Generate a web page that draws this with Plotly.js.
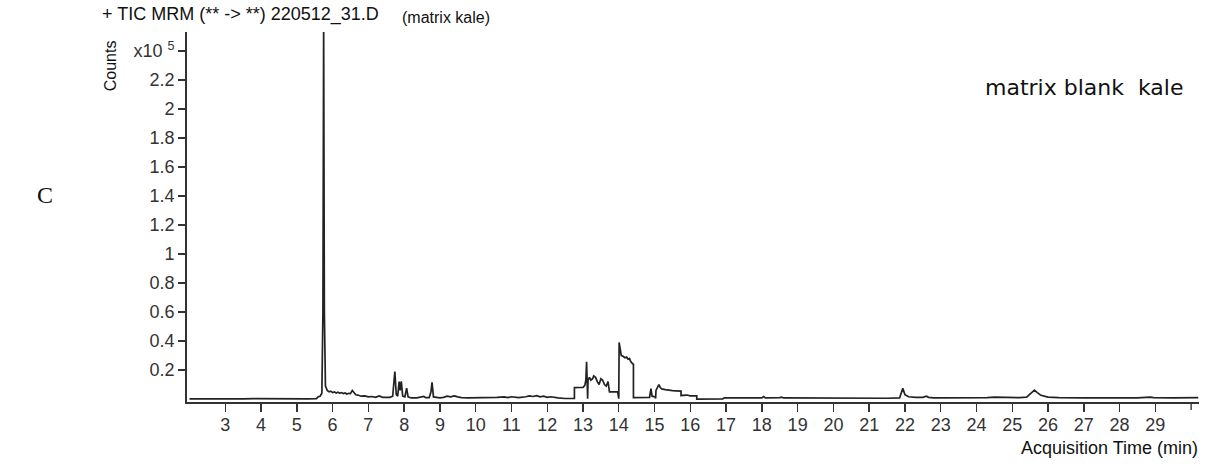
<!DOCTYPE html>
<html>
<head>
<meta charset="utf-8">
<script src="https://cdn.plot.ly/plotly-3.0.1.min.js"></script>
<style>html,body{margin:0;padding:0;background:#fff;}#chart{width:1206px;height:464px;}</style>
</head>
<body>
<div id="chart"></div>
<script>
// Acquisition time (min)
var times = [
2.0,2.3,2.6,2.9,3.2,3.5,3.8,4.1,4.4,4.7,5.0,5.3,5.55,5.6,5.65,5.7,5.73,5.75,5.77,5.8,5.85,5.9,5.95,6.0,6.05,6.1,6.15,6.2,6.25,6.3,6.35,6.4,6.45,6.5,6.55,6.6,6.65,6.7,6.8,6.9,7.0,7.1,7.2,7.3,7.4,7.5,7.6,7.68,7.74,7.78,7.82,7.86,7.89,7.92,7.96,8.02,8.07,8.11,8.2,8.35,8.5,8.55,8.6,8.7,8.75,8.78,8.82,8.9,9.0,9.1,9.2,9.3,9.4,9.5,9.6,9.8,10.0,10.2,10.4,10.6,10.8,10.9,11.0,11.2,11.4,11.5,11.6,11.7,11.8,11.9,12.0,12.1,12.3,12.5,12.76,12.76,12.9,13.0,13.05,13.08,13.1,13.12,13.13,13.14,13.18,13.22,13.27,13.3,13.35,13.4,13.45,13.5,13.55,13.6,13.65,13.7,13.73,13.74,13.97,13.98,14.0,14.01,14.04,14.07,14.12,14.17,14.22,14.26,14.3,14.33,14.38,14.41,14.41,14.6,14.8,14.86,14.9,14.93,15.02,15.03,15.04,15.08,15.12,15.16,15.2,15.3,15.4,15.5,15.6,15.74,15.74,15.9,16.0,16.18,16.18,16.5,16.9,16.95,17.5,18.0,18.05,18.1,18.5,18.55,18.6,19.0,20.0,21.0,21.5,21.85,21.94,22.0,22.1,22.3,22.5,22.6,22.66,22.8,23.0,23.5,24.0,24.3,24.5,24.7,24.9,25.2,25.4,25.5,25.62,25.7,25.8,26.0,26.3,27.0,28.0,28.5,28.85,28.95,29.5,30.2
];
// Counts (x10^5)
var counts = [
0.001,0.0,0.002,0.001,0.002,0.001,0.003,0.002,0.004,0.002,0.003,0.002,0.003,0.016,0.02,0.04,0.6,2.6,0.6,0.09,0.06,0.05,0.055,0.045,0.05,0.042,0.048,0.04,0.045,0.038,0.042,0.035,0.04,0.038,0.06,0.045,0.03,0.028,0.02,0.022,0.016,0.018,0.012,0.022,0.012,0.012,0.012,0.02,0.19,0.03,0.02,0.12,0.06,0.122,0.02,0.015,0.075,0.015,0.008,0.008,0.012,0.018,0.01,0.01,0.05,0.115,0.015,0.01,0.008,0.012,0.02,0.016,0.022,0.015,0.01,0.008,0.008,0.012,0.01,0.012,0.015,0.01,0.016,0.01,0.016,0.022,0.018,0.024,0.015,0.02,0.012,0.016,0.008,0.004,0.004,0.079,0.08,0.08,0.095,0.13,0.258,0.1,0.003,0.13,0.15,0.13,0.14,0.16,0.15,0.12,0.1,0.14,0.13,0.1,0.09,0.12,0.08,0.05,0.05,0.003,0.003,0.39,0.33,0.3,0.295,0.285,0.29,0.275,0.28,0.26,0.245,0.24,0.01,0.01,0.01,0.012,0.072,0.02,0.015,0.004,0.06,0.085,0.1,0.08,0.07,0.065,0.06,0.058,0.057,0.055,0.025,0.028,0.022,0.022,0.0,0.0,0.001,0.008,0.008,0.008,0.018,0.008,0.01,0.014,0.008,0.007,0.005,0.005,0.006,0.008,0.074,0.03,0.016,0.012,0.012,0.02,0.012,0.008,0.008,0.008,0.008,0.01,0.014,0.013,0.009,0.01,0.014,0.033,0.062,0.045,0.026,0.014,0.01,0.008,0.008,0.009,0.014,0.01,0.009,0.01
];
var xTickVals = [3,4,5,6,7,8,9,10,11,12,13,14,15,16,17,18,19,20,21,22,23,24,25,26,27,28,29];
var xTickText = ['3','4','5','6','7','8','9','10','11','12','13','14','15','16','17','18','19','20','21','22','23','24','25','26','27','28','29'];
var xExtraTick = 30;
var yTickVals = [0.2,0.4,0.6,0.8,1,1.2,1.4,1.6,1.8,2,2.2,2.4];
var yTickText = ['0.2','0.4','0.6','0.8','1','1.2','1.4','1.6','1.8','2','2.2','x10 <sup>5</sup>'];

var font = 'Liberation Sans, Arial, sans-serif';
var trace = {
  x: times, y: counts, type: 'scatter', mode: 'lines',
  line: {color: '#222222', width: 1.7, shape: 'linear'},
  hoverinfo: 'skip'
};
var layout = {
  width: 1206, height: 464,
  margin: {l: 187, r: 7, t: 32, b: 62, pad: 0},
  paper_bgcolor: '#ffffff', plot_bgcolor: '#ffffff',
  showlegend: false,
  xaxis: {
    range: [1.93, 30.22], showgrid: false, zeroline: false,
    showline: true, linecolor: '#333333', linewidth: 1.8,
    ticks: 'outside', ticklen: 8, tickwidth: 1.4, tickcolor: '#333333',
    tickmode: 'array', tickvals: xTickVals, ticktext: xTickText,
    ticklabelstandoff: -2,
    tickfont: {family: font, size: 18, color: '#333333'}
  },
  yaxis: {
    range: [-0.02, 2.53], showgrid: false, zeroline: false,
    showline: true, linecolor: '#333333', linewidth: 1.8,
    ticks: 'outside', ticklen: 7, tickwidth: 1.4, tickcolor: '#333333',
    tickmode: 'array', tickvals: yTickVals, ticktext: yTickText,
    tickfont: {family: font, size: 18, color: '#333333'}
  },
  shapes: [
    {type: 'line', xref: 'x', yref: 'paper', x0: xExtraTick, x1: xExtraTick, y0: 0, y1: -8/370,
     line: {color: '#333333', width: 1.4}}
  ],
  annotations: [
    {text: '+ TIC MRM (** -> **) 220512_31.D', xref: 'paper', yref: 'paper', x: -0.086, y: 1.046,
     xanchor: 'left', yanchor: 'middle', showarrow: false, font: {family: font, size: 18, color: '#111111'}},
    {text: '(matrix kale)', xref: 'paper', yref: 'paper', x: 0.2105, y: 1.0405,
     xanchor: 'left', yanchor: 'middle', showarrow: false, font: {family: font, size: 16, color: '#111111'}},
    {text: 'Counts', xref: 'paper', yref: 'paper', x: -0.0761, y: 0.91, textangle: -90,
     xanchor: 'center', yanchor: 'middle', showarrow: false, font: {family: font, size: 16, color: '#111111'}},
    {text: 'Acquisition Time (min)', xref: 'paper', yref: 'paper', x: 1.001, y: -0.124,
     xanchor: 'right', yanchor: 'middle', showarrow: false, font: {family: font, size: 18, color: '#111111'}},
    {text: 'matrix blank  kale', xref: 'paper', yref: 'paper', x: 0.886, y: 0.849,
     xanchor: 'center', yanchor: 'middle', showarrow: false, font: {family: 'DejaVu Sans, sans-serif', size: 22, color: '#111111'}},
    {text: 'C', xref: 'paper', yref: 'paper', x: -0.1403, y: 0.559,
     xanchor: 'center', yanchor: 'middle', showarrow: false, font: {family: 'Liberation Serif, serif', size: 24, color: '#111111'}}
  ]
};
Plotly.newPlot('chart', [trace], layout, {displayModeBar: false, staticPlot: true});
</script>
</body>
</html>
